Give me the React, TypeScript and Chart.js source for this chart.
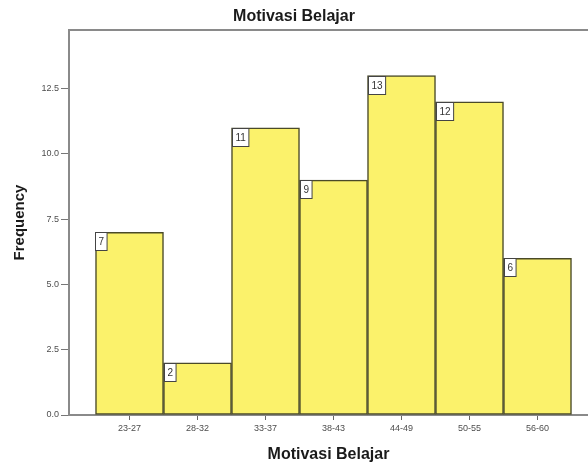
import React, { useEffect, useRef } from "react";
import { Chart, registerables } from "chart.js";

Chart.register(...registerables);

const categories = ["23-27", "28-32", "33-37", "38-43", "44-49", "50-55", "56-60"];
const frequencies = [7, 2, 11, 9, 13, 12, 6];
const yTickValues = [0, 2.5, 5, 7.5, 10, 12.5];

const FONT = "'Liberation Sans', Arial, sans-serif";

const frameAndLabels = {
  id: "frameAndLabels",
  afterDatasetsDraw(chart: any) {
    const ctx = chart.ctx;
    const area = chart.chartArea;
    ctx.save();
    // top frame line
    ctx.strokeStyle = "#8a8a8a";
    ctx.lineWidth = 2;
    ctx.beginPath();
    ctx.moveTo(area.left - 1, area.top);
    ctx.lineTo(area.right, area.top);
    ctx.stroke();

    // value boxes
    const meta = chart.getDatasetMeta(0);
    ctx.font = `10px ${FONT}`;
    ctx.textAlign = "center";
    ctx.textBaseline = "middle";
    meta.data.forEach((bar: any, i: number) => {
      const label = String(frequencies[i]);
      const w = ctx.measureText(label).width + 6;
      const h = 18;
      const x0 = Math.round(bar.x - bar.width / 2) + 0.5;
      const y0 = Math.round(bar.y) + 0.5;
      ctx.fillStyle = "#ffffff";
      ctx.fillRect(x0, y0, w, h);
      ctx.strokeStyle = "#444444";
      ctx.lineWidth = 1;
      ctx.strokeRect(x0, y0, w, h);
      ctx.fillStyle = "#333333";
      ctx.fillText(label, x0 + w / 2, y0 + h / 2 + 0.5);
    });
    ctx.restore();
  },
};

export default function App() {
  const canvasRef = useRef<HTMLCanvasElement | null>(null);

  useEffect(() => {
    if (!canvasRef.current) return;
    const chart = new Chart(canvasRef.current, {
      type: "bar",
      data: {
        datasets: [
          {
            label: "Frequency",
            data: frequencies.map((v, i) => ({ x: i, y: v })),
            backgroundColor: "#fbf26b",
            borderColor: "#4a4a28",
            borderWidth: 1.5,
            borderSkipped: false,
            barPercentage: 1,
            categoryPercentage: 1,
          },
        ],
      },
      options: {
        animation: false,
        responsive: false,
        layout: { padding: 0 },
        plugins: {
          legend: { display: false },
          tooltip: { enabled: false },
          title: {
            display: true,
            text: "Motivasi Belajar",
            color: "#1a1a1a",
            font: { family: FONT, size: 16, weight: "bold" },
            padding: { top: 7.4, bottom: 3.4 },
          },
        },
        scales: {
          x: {
            type: "linear",
            offset: false,
            min: -0.8897,
            max: 6.7426,
            afterBuildTicks: (scale: any) => {
              scale.ticks = categories.map((_, i) => ({ value: i }));
            },
            afterFit: (scale: any) => {
              scale.height = 51;
            },
            ticks: {
              autoSkip: false,
              maxRotation: 0,
              padding: 3,
              color: "#4d4d4d",
              font: { family: FONT, size: 9 },
              callback: (v: any) => categories[Math.round(Number(v))] ?? "",
            },
            grid: {
              offset: false,
              drawOnChartArea: false,
              drawTicks: true,
              tickLength: 5,
              color: "#666666",
            },
            border: { display: true, color: "#8a8a8a", width: 2 },
            title: {
              display: true,
              text: "Motivasi Belajar",
              color: "#1a1a1a",
              font: { family: FONT, size: 16, weight: "bold" },
              padding: { top: 0, bottom: 1.4 },
            },
          },
          y: {
            type: "linear",
            min: 0,
            max: 14.75,
            afterBuildTicks: (scale: any) => {
              scale.ticks = yTickValues.map((v) => ({ value: v }));
            },
            afterFit: (scale: any) => {
              scale.width = 69;
            },
            ticks: {
              padding: 2,
              color: "#4d4d4d",
              font: { family: FONT, size: 9 },
              callback: (v: any) => Number(v).toFixed(1),
            },
            grid: {
              drawOnChartArea: false,
              drawTicks: true,
              tickLength: 8,
              color: "#777777",
            },
            border: { display: true, color: "#8a8a8a", width: 2 },
            title: {
              display: true,
              text: "Frequency",
              color: "#1a1a1a",
              font: { family: FONT, size: 15, weight: "bold" },
              padding: { top: 11, bottom: 0 },
            },
          },
        },
      },
      plugins: [frameAndLabels],
    } as any);
    return () => chart.destroy();
  }, []);

  return (
    <div style={{ position: "fixed", left: 0, top: 0, width: 588, height: 466, background: "#ffffff" }}>
      <canvas ref={canvasRef} width={588} height={466} style={{ display: "block" }} />
    </div>
  );
}
